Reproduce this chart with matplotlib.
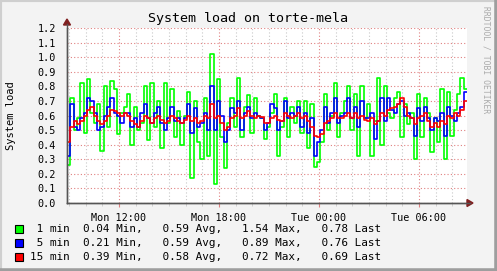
import numpy as np
import matplotlib.pyplot as plt
from matplotlib.patches import Rectangle, Polygon

# load averages, one value per 12 minutes, from Mon 08:53
start_h = 8.88
step_h = 0.2

load1 = [0.26, 0.72, 0.50, 0.58, 0.82, 0.48, 0.85, 0.62, 0.55, 0.68, 0.36, 0.80, 0.52, 0.84, 0.78,
         0.47, 0.62, 0.66, 0.75, 0.40, 0.66, 0.50, 0.55, 0.80, 0.43, 0.82, 0.52, 0.70, 0.38, 0.82,
         0.55, 0.78, 0.45, 0.63, 0.40, 0.60, 0.76, 0.17, 0.70, 0.42, 0.30, 0.72, 0.32, 1.02, 0.13,
         0.85, 0.45, 0.24, 0.55, 0.72, 0.52, 0.86, 0.45, 0.66, 0.74, 0.48, 0.72, 0.60, 0.58, 0.44,
         0.52, 0.62, 0.75, 0.32, 0.52, 0.72, 0.45, 0.66, 0.55, 0.70, 0.48, 0.70, 0.38, 0.68, 0.25,
         0.28, 0.42, 0.75, 0.50, 0.60, 0.82, 0.45, 0.62, 0.70, 0.80, 0.50, 0.75, 0.32, 0.80, 0.58,
         0.68, 0.32, 0.56, 0.86, 0.40, 0.80, 0.62, 0.58, 0.72, 0.76, 0.45, 0.68, 0.54, 0.62, 0.30,
         0.75, 0.45, 0.72, 0.62, 0.35, 0.58, 0.42, 0.78, 0.30, 0.76, 0.46, 0.64, 0.75, 0.86, 0.78]
load5 = [0.32, 0.68, 0.52, 0.50, 0.58, 0.62, 0.72, 0.70, 0.62, 0.50, 0.52, 0.60, 0.66, 0.72, 0.62,
         0.60, 0.55, 0.62, 0.62, 0.52, 0.58, 0.52, 0.62, 0.68, 0.58, 0.55, 0.62, 0.66, 0.55, 0.50,
         0.58, 0.66, 0.56, 0.58, 0.55, 0.58, 0.68, 0.48, 0.65, 0.52, 0.55, 0.62, 0.50, 0.80, 0.50,
         0.70, 0.60, 0.42, 0.50, 0.65, 0.62, 0.70, 0.50, 0.62, 0.66, 0.58, 0.62, 0.60, 0.58, 0.50,
         0.55, 0.68, 0.65, 0.50, 0.56, 0.70, 0.58, 0.62, 0.60, 0.66, 0.52, 0.62, 0.48, 0.58, 0.32,
         0.42, 0.50, 0.66, 0.55, 0.62, 0.72, 0.55, 0.60, 0.62, 0.72, 0.58, 0.66, 0.52, 0.70, 0.58,
         0.58, 0.62, 0.44, 0.56, 0.72, 0.56, 0.72, 0.64, 0.62, 0.68, 0.70, 0.60, 0.62, 0.58, 0.46,
         0.65, 0.56, 0.66, 0.58, 0.50, 0.58, 0.56, 0.62, 0.46, 0.66, 0.60, 0.56, 0.62, 0.66, 0.76]
load15 = [0.42, 0.52, 0.56, 0.54, 0.56, 0.60, 0.64, 0.66, 0.60, 0.56, 0.54, 0.56, 0.60, 0.64, 0.63,
          0.62, 0.60, 0.62, 0.60, 0.56, 0.54, 0.52, 0.56, 0.60, 0.58, 0.55, 0.58, 0.60, 0.57, 0.55,
          0.56, 0.60, 0.58, 0.56, 0.55, 0.57, 0.60, 0.56, 0.58, 0.55, 0.56, 0.60, 0.58, 0.68, 0.58,
          0.60, 0.55, 0.50, 0.52, 0.58, 0.60, 0.65, 0.58, 0.60, 0.63, 0.60, 0.58, 0.60, 0.59, 0.55,
          0.55, 0.58, 0.60, 0.57, 0.56, 0.62, 0.60, 0.58, 0.60, 0.62, 0.58, 0.60, 0.56, 0.52, 0.46,
          0.45, 0.47, 0.55, 0.56, 0.58, 0.62, 0.58, 0.58, 0.60, 0.62, 0.58, 0.62, 0.58, 0.60, 0.57,
          0.56, 0.58, 0.54, 0.56, 0.62, 0.60, 0.64, 0.65, 0.66, 0.68, 0.72, 0.66, 0.60, 0.58, 0.54,
          0.58, 0.60, 0.62, 0.56, 0.52, 0.55, 0.52, 0.56, 0.54, 0.60, 0.58, 0.62, 0.60, 0.64, 0.70]

major_ticks = [12, 18, 24, 30]
major_labels = ['Mon 12:00', 'Mon 18:00', 'Tue 00:00', 'Tue 06:00']
y_ticks = [0.0, 0.1, 0.2, 0.3, 0.4, 0.5, 0.6, 0.7, 0.8, 0.9, 1.0, 1.1, 1.2]

names = [' 1 min', ' 5 min', '15 min']
colors = ['#00ff00', '#0000ff', '#ff0000']
mins = [0.04, 0.21, 0.39]
avgs = [0.59, 0.59, 0.58]
maxs = [1.54, 0.89, 0.72]
lasts = [0.78, 0.76, 0.69]

W, H = 497, 271
mono = 'DejaVu Sans Mono'

fig = plt.figure(figsize=(W / 100, H / 100), dpi=100, facecolor='#f3f3f3')

def fx(px):
    return px / W

def fy(py):
    return 1 - py / H

ax = fig.add_axes([fx(67), fy(203), fx(467) - fx(67), fy(28) - fy(203)])
ax.set_facecolor('white')

n = len(load1)
t = start_h + step_h * np.arange(n + 1)
for vals, c in zip([load1, load5, load15], colors):
    ax.plot(t, list(vals) + [vals[-1]], drawstyle='steps-post', color=c, lw=1.2)

ax.set_xlim(t[0], t[-1])
ax.set_ylim(0, 1.2)

# grid
for h in range(9, 33):
    c = '#e08080' if h in major_ticks else '#c8c8c8'
    ax.axvline(h, color=c, lw=0.8, ls=(0, (1, 2)), zorder=0)
for y in y_ticks:
    ax.axhline(y, color='#e08080', lw=0.8, ls=(0, (1, 2)), zorder=0)

ax.set_xticks(major_ticks)
ax.set_xticklabels(major_labels, fontfamily=mono, fontsize=7.3)
ax.set_xticks(range(9, 33), minor=True)
ax.set_yticks(y_ticks)
ax.set_yticklabels(['%.1f' % v for v in y_ticks], fontfamily=mono, fontsize=7.3)
ax.tick_params(axis='x', which='major', length=3, color='#e08080', pad=4)
ax.tick_params(axis='x', which='minor', length=2, color='#c8c8c8')
ax.tick_params(axis='y', length=0, pad=8)
for s in ['top', 'right']:
    ax.spines[s].set_visible(False)
for s in ['left', 'bottom']:
    ax.spines[s].set_color('#555555')
    ax.spines[s].set_linewidth(1)

# axis extensions and arrows
fig.add_artist(plt.Line2D([fx(67), fx(67)], [fy(203), fy(24)], transform=fig.transFigure,
                          color='#555555', lw=1))
fig.add_artist(plt.Line2D([fx(67), fx(470)], [fy(203), fy(203)], transform=fig.transFigure,
                          color='#555555', lw=1))
fig.patches.append(Polygon([[fx(63.5), fy(25)], [fx(70.5), fy(25)], [fx(67), fy(19)]],
                           closed=True, transform=fig.transFigure, color='#802020'))
fig.patches.append(Polygon([[fx(467), fy(199.5)], [fx(467), fy(206.5)], [fx(473), fy(203)]],
                           closed=True, transform=fig.transFigure, color='#802020'))

fig.text(fx(248), fy(19), 'System load on torte-mela', fontfamily=mono, fontsize=9.6,
         ha='center', va='center')
fig.text(fx(11), fy(116), 'System load', fontfamily=mono, fontsize=7.5,
         rotation=90, ha='center', va='center')
fig.text(fx(486), fy(60), 'RRDTOOL / TOBI OETIKER', fontfamily=mono, fontsize=5.8,
         rotation=270, ha='center', va='center', color='#aaaaaa')

# legend
rows = [229, 243, 257]
for i in range(3):
    fig.patches.append(Rectangle((fx(15), fy(rows[i] + 4)), fx(8), 8 / H,
                                 transform=fig.transFigure, facecolor=colors[i],
                                 edgecolor='black', lw=0.8))
    line = '%s  %.2f Min,   %.2f Avg,   %.2f Max,   %.2f Last' % (
        names[i], mins[i], avgs[i], maxs[i], lasts[i])
    fig.text(fx(30.5), fy(rows[i]), line, fontfamily=mono, fontsize=7.9,
             ha='left', va='center')

# 3d frame
fig.add_artist(plt.Line2D([0, 0, 1], [0, 1, 1], transform=fig.transFigure,
                          color='#cfcfcf', lw=3))
fig.add_artist(plt.Line2D([0, 1, 1], [0, 0, 1], transform=fig.transFigure,
                          color='#9e9e9e', lw=4))

fig.savefig('out.png', dpi=100, facecolor=fig.get_facecolor())
